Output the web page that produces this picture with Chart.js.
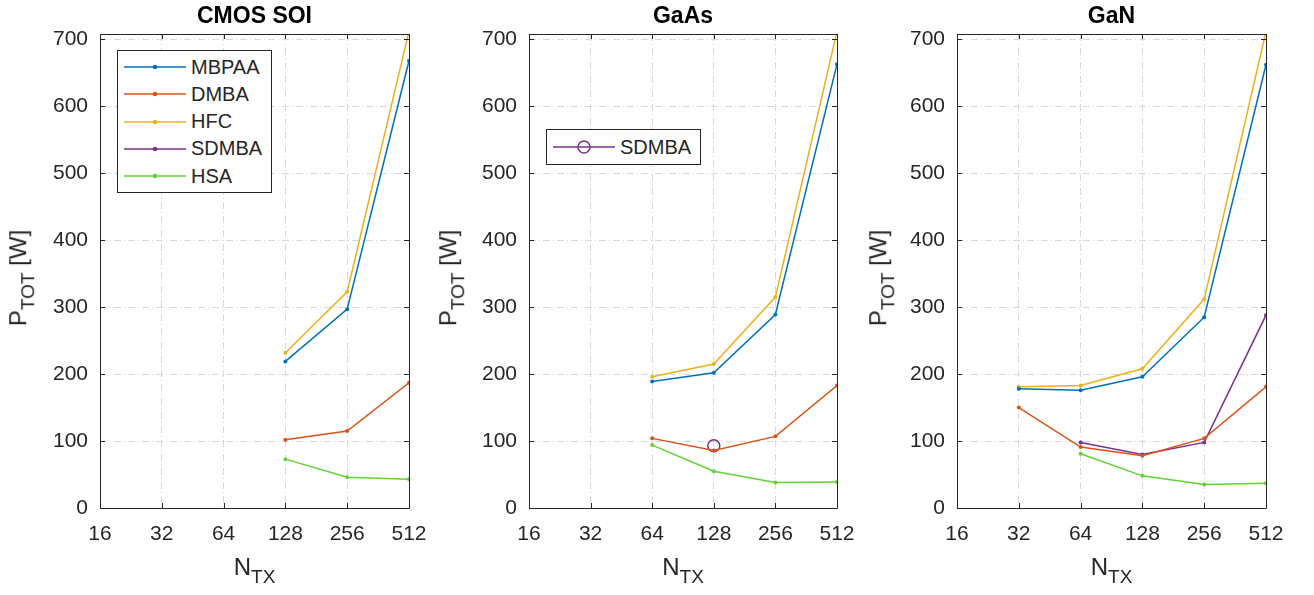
<!DOCTYPE html>
<html>
<head>
<meta charset="utf-8">
<script src="https://cdn.jsdelivr.net/npm/chart.js@4.4.0/dist/chart.umd.min.js"></script>
<style>
  body { margin: 0; background: #fff; font-family: "Liberation Sans", Arial, sans-serif; color: #262626; }
  #wrap { position: relative; width: 1314px; height: 595px; overflow: hidden; }
  canvas { position: absolute; top: 0; }
  .title { position: absolute; top: 0px; font-weight: bold; font-size: 23px; line-height: 30px; color: #000; transform: translateX(-50%); white-space: nowrap; }
  .xlab { position: absolute; top: 552px; font-size: 24px; line-height: 30px; transform: translateX(-50%); white-space: nowrap; }
  .ylab { position: absolute; font-size: 24px; line-height: 30px; white-space: nowrap; transform: translate(-50%, -50%) rotate(-90deg); }
  sub { font-size: 19px; vertical-align: -0.4em; }
  .legend { position: absolute; border: 1px solid #262626; background: #fff; }
  .legend .row { position: absolute; left: 0; height: 26px; display: flex; align-items: center; font-size: 20px; }
  .legend svg { margin-right: 5px; }
</style>
</head>
<body>
<div id="wrap">
  <canvas id="c0" width="430" height="595" style="left:0px"></canvas>
  <canvas id="c1" width="430" height="595" style="left:430px"></canvas>
  <canvas id="c2" width="454" height="595" style="left:860px"></canvas>
</div>
<script>
// N_TX values (log2 x axis)
const nTx = [16, 32, 64, 128, 256, 512];
const seriesNames = ['MBPAA', 'DMBA', 'HFC', 'SDMBA', 'HSA'];
const seriesColors = ['#0072BD', '#D95319', '#EDB120', '#7E2F8E', '#62D235'];
const panelTitles = ['CMOS SOI', 'GaAs', 'GaN'];
const yTicks = [0, 100, 200, 300, 400, 500, 600, 700];

// P_TOT [W], one value per nTx entry (null = no point)
const cmosMBPAA = [null, null, null, 219, 297, 668];
const cmosDMBA  = [null, null, null, 102, 115, 187];
const cmosHFC   = [null, null, null, 232, 323, 712];
const cmosSDMBA = [null, null, null, null, null, null];
const cmosHSA   = [null, null, null, 73, 46, 43];

const gaasMBPAA = [null, null, 189, 202, 289, 663];
const gaasDMBA  = [null, null, 104, 86, 107, 183];
const gaasHFC   = [null, null, 196, 215, 315, 712];
const gaasSDMBA = [null, null, null, 93, null, null];
const gaasHSA   = [null, null, 94, 55, 38, 39];

const ganMBPAA = [null, 178, 176, 196, 285, 662];
const ganDMBA  = [null, 150, 91, 78, 104, 181];
const ganHFC   = [null, 181, 183, 208, 312, 712];
const ganSDMBA = [null, null, 98, 80, 98, 288];
const ganHSA   = [null, null, 81, 48, 35, 37];

const panels = [
  [cmosMBPAA, cmosDMBA, cmosHFC, cmosSDMBA, cmosHSA],
  [gaasMBPAA, gaasDMBA, gaasHFC, gaasSDMBA, gaasHSA],
  [ganMBPAA, ganDMBA, ganHFC, ganSDMBA, ganHSA]
];

// canvas left, plot left, plot right, canvas width
const geom = [
  { cl: 0, pl: 100, pr: 409, cw: 430 },
  { cl: 430, pl: 529, pr: 837, cw: 430 },
  { cl: 860, pl: 957, pr: 1266, cw: 454 }
];
const plotTop = 34, plotBottom = 508;
const ink = '#262626';
const tickFont = { family: '"Liberation Sans", Arial, sans-serif', size: 21 };

const boxPlugin = {
  id: 'box',
  afterDraw(chart) {
    const { ctx, chartArea: a, scales } = chart;
    ctx.save();
    ctx.strokeStyle = ink;
    ctx.lineWidth = 1;
    ctx.beginPath();
    ctx.rect(Math.round(a.left) + 0.5, Math.round(a.top) + 0.5, Math.round(a.right - a.left), Math.round(a.bottom - a.top));
    scales.x.ticks.forEach(t => {
      const px = Math.round(scales.x.getPixelForValue(t.value)) + 0.5;
      ctx.moveTo(px, a.bottom); ctx.lineTo(px, a.bottom - 5);
      ctx.moveTo(px, a.top); ctx.lineTo(px, a.top + 5);
    });
    scales.y.ticks.forEach(t => {
      const py = Math.round(scales.y.getPixelForValue(t.value)) + 0.5;
      ctx.moveTo(a.left, py); ctx.lineTo(a.left + 5, py);
      ctx.moveTo(a.right, py); ctx.lineTo(a.right - 5, py);
    });
    ctx.stroke();
    ctx.restore();
  }
};

function makeChart(i) {
  const g = geom[i];
  const datasets = [];
  panels[i].forEach((vals, s) => {
    const pts = [];
    vals.forEach((v, k) => { if (v !== null) pts.push({ x: Math.log2(nTx[k]), y: v }); });
    if (!pts.length) return;
    const circle = (i === 1 && s === 3);
    datasets.push({
      label: seriesNames[s],
      data: pts,
      borderColor: seriesColors[s],
      backgroundColor: circle ? 'rgba(0,0,0,0)' : seriesColors[s],
      pointBorderColor: seriesColors[s],
      borderWidth: 1.5,
      pointRadius: circle ? 6 : 2,
      pointBorderWidth: circle ? 1.5 : 0,
      pointStyle: 'circle',
      clip: 0,
      tension: 0
    });
  });

  new Chart(document.getElementById('c' + i), {
    type: 'line',
    data: { datasets },
    options: {
      responsive: false,
      animation: false,
      events: [],
      layout: { padding: { left: 0, top: plotTop, right: g.cw - (g.pr - g.cl), bottom: 0 } },
      plugins: { legend: { display: false }, tooltip: { enabled: false } },
      scales: {
        x: {
          type: 'linear',
          min: Math.log2(nTx[0]),
          max: Math.log2(nTx[nTx.length - 1]),
          afterFit: sc => { sc.height = 595 - plotBottom; sc.paddingLeft = 0; sc.paddingRight = 0; },
          afterBuildTicks: sc => { sc.ticks = nTx.map(n => ({ value: Math.log2(n) })); },
          ticks: {
            callback: v => String(Math.round(Math.pow(2, v))),
            color: ink, padding: 14, maxRotation: 0, font: tickFont
          },
          grid: { color: '#d9d9d9', lineWidth: 1, drawTicks: false },
          border: { display: false, dash: [7, 3, 1, 3] }
        },
        y: {
          type: 'linear',
          min: 0,
          max: 708,
          afterFit: sc => { sc.width = g.pl - g.cl; sc.paddingTop = 0; sc.paddingBottom = 0; },
          afterBuildTicks: sc => { sc.ticks = yTicks.map(v => ({ value: v })); },
          ticks: { color: ink, padding: 12, font: tickFont },
          grid: { color: '#d9d9d9', lineWidth: 1, drawTicks: false },
          border: { display: false, dash: [7, 3, 1, 3] }
        }
      }
    },
    plugins: [boxPlugin]
  });

  const wrap = document.getElementById('wrap');
  const cx = (g.pl + g.pr) / 2;
  const t = document.createElement('div');
  t.className = 'title'; t.style.left = cx + 'px'; t.textContent = panelTitles[i];
  wrap.appendChild(t);
  const xl = document.createElement('div');
  xl.className = 'xlab'; xl.style.left = cx + 'px'; xl.innerHTML = 'N<sub>TX</sub>';
  wrap.appendChild(xl);
  const yl = document.createElement('div');
  yl.className = 'ylab'; yl.style.left = (g.cl + 23) + 'px'; yl.style.top = '278px';
  yl.innerHTML = 'P<sub>TOT</sub> [W]';
  wrap.appendChild(yl);
}

function legendBox(left, top, width, height, idxs, circle) {
  const box = document.createElement('div');
  box.className = 'legend';
  box.style.left = left + 'px'; box.style.top = top + 'px';
  box.style.width = width + 'px'; box.style.height = height + 'px';
  idxs.forEach((s, r) => {
    const row = document.createElement('div');
    row.className = 'row';
    row.style.top = (circle ? 4 : 3 + r * 27.3) + 'px';
    row.style.left = '6px';
    const c = seriesColors[s];
    const mark = circle
      ? `<circle cx="31" cy="13" r="6" fill="none" stroke="${c}" stroke-width="1.5"/>`
      : `<circle cx="31" cy="13" r="2.3" fill="${c}"/>`;
    row.innerHTML = `<svg width="62" height="26"><line x1="0" y1="13" x2="62" y2="13" stroke="${c}" stroke-width="1.5"/>${mark}</svg><span>${seriesNames[s]}</span>`;
    box.appendChild(row);
  });
  document.getElementById('wrap').appendChild(box);
}

[0, 1, 2].forEach(makeChart);
legendBox(117, 50, 153, 141, [0, 1, 2, 3, 4], false);
legendBox(546, 129, 153, 34, [3], true);
</script>
</body>
</html>
